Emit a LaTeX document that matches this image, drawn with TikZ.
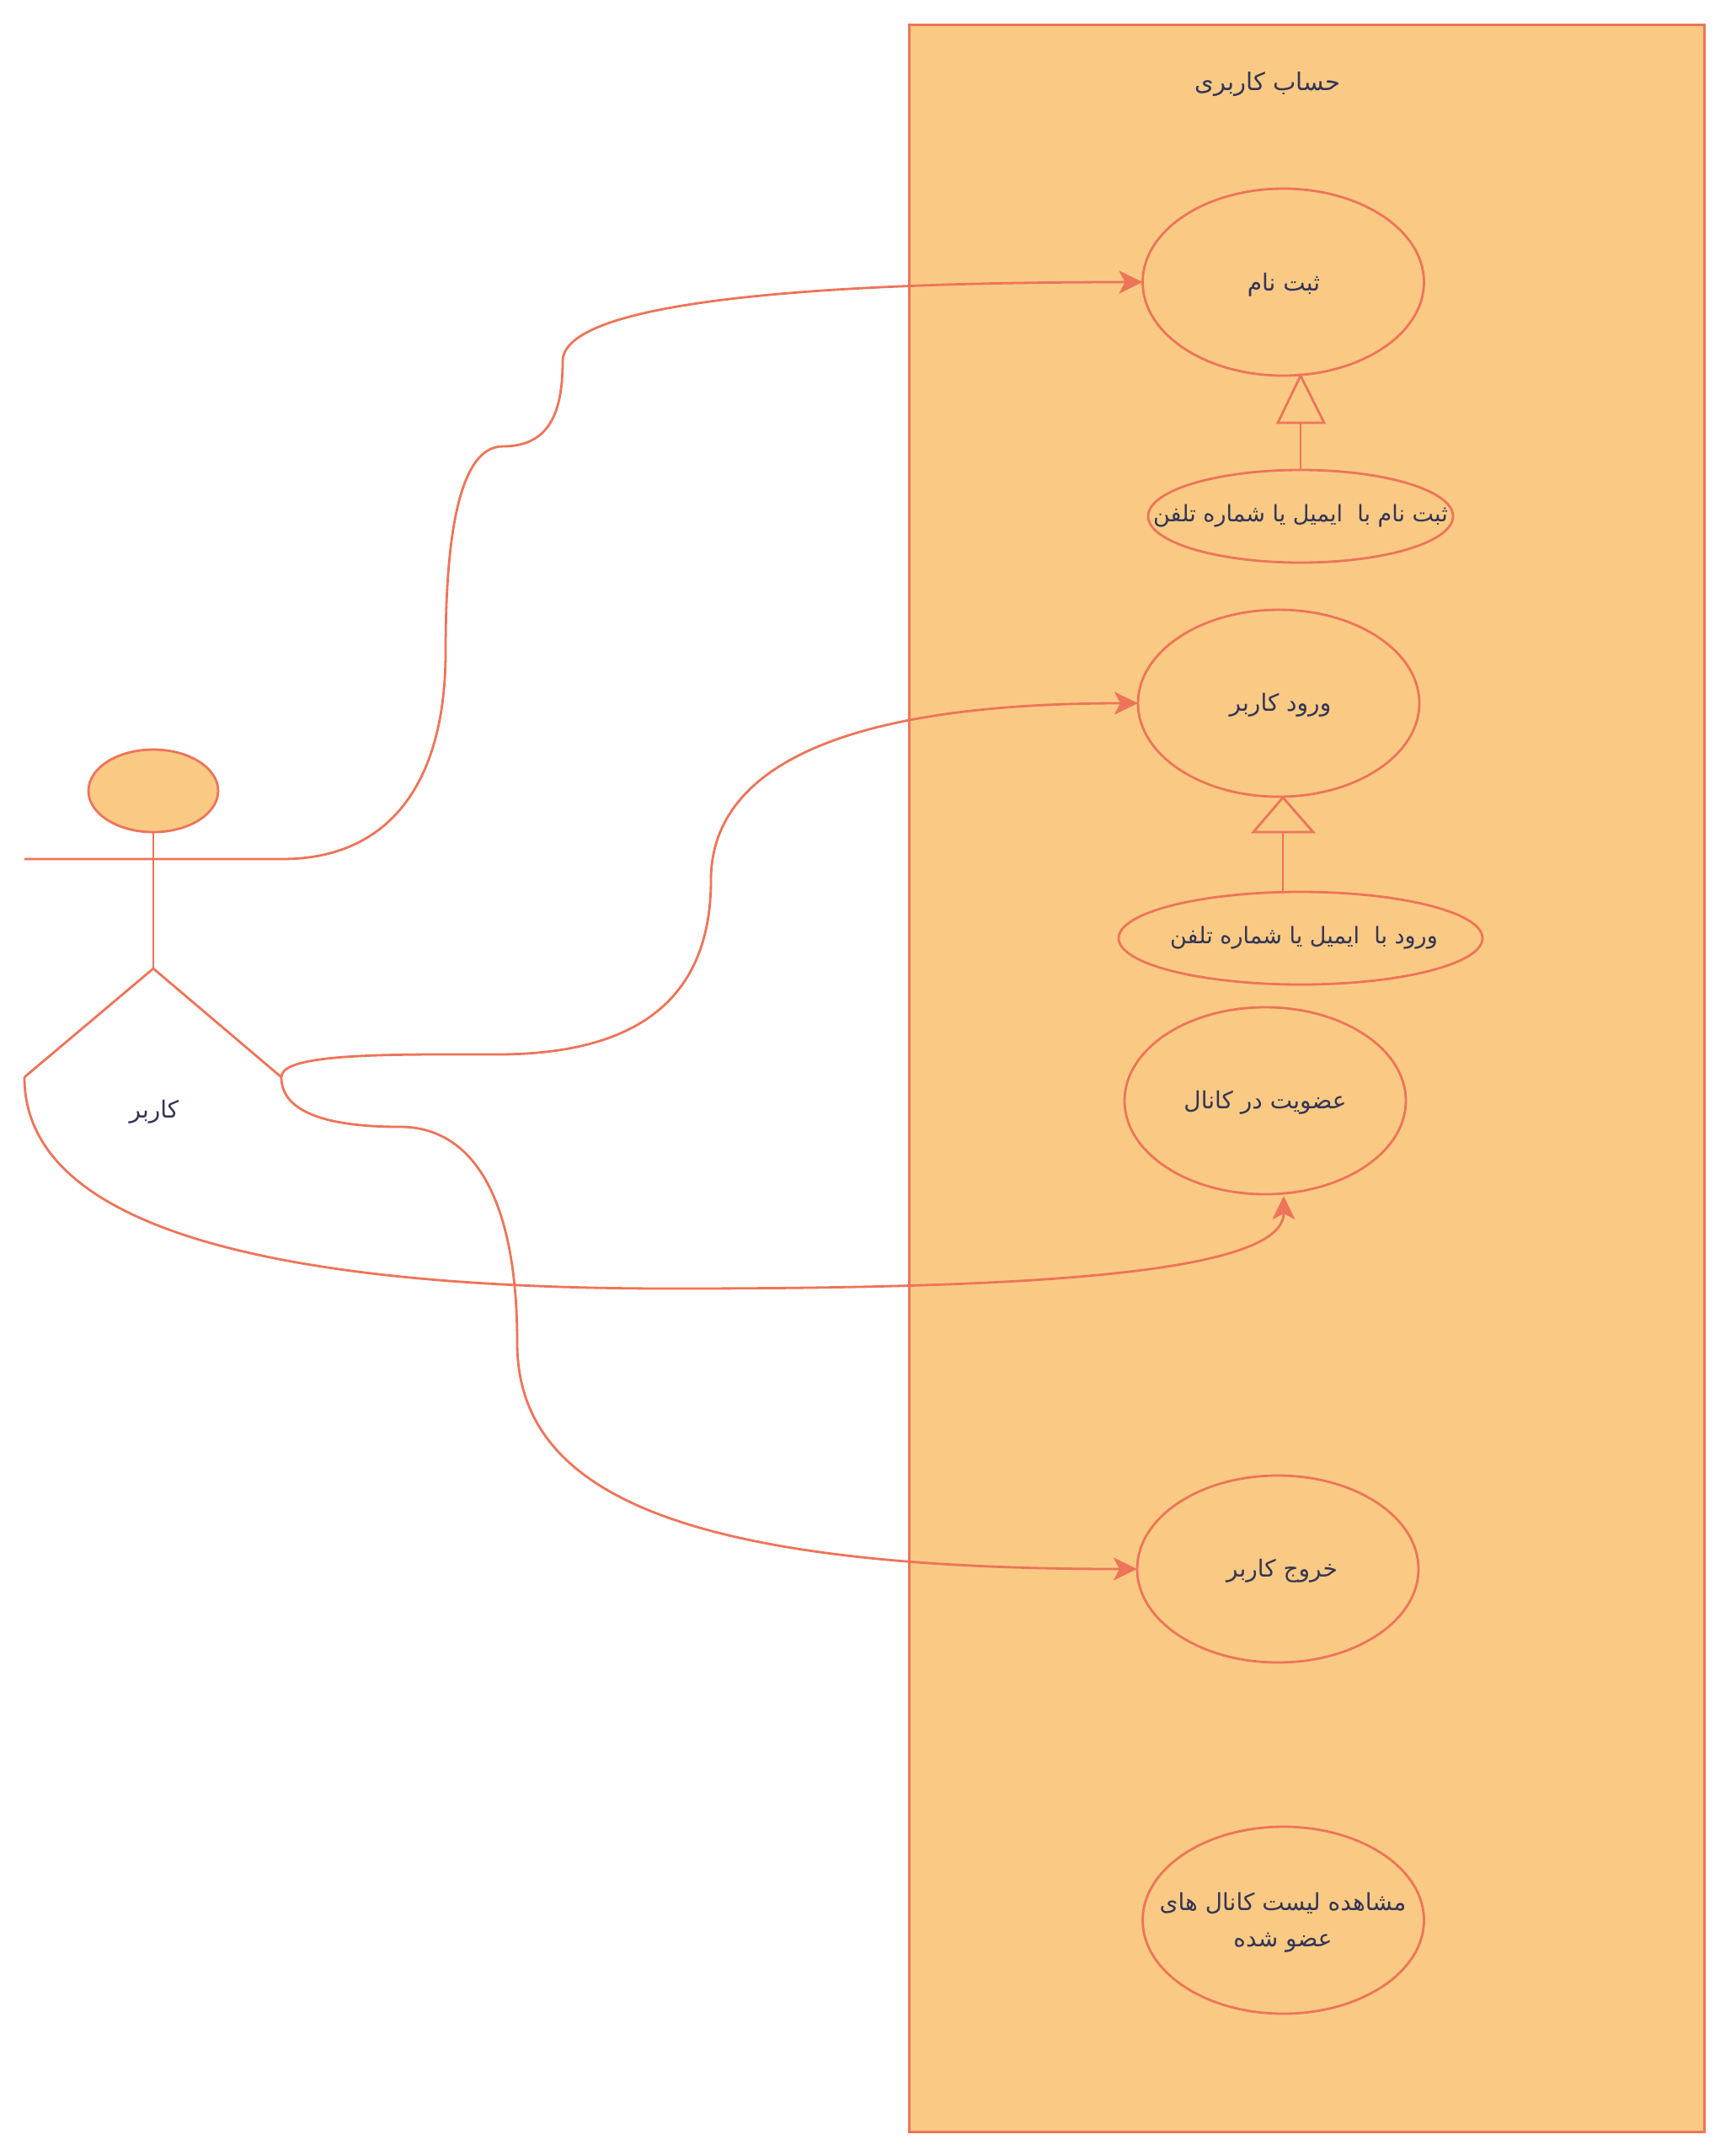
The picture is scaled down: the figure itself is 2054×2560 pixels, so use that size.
\documentclass[tikz,border=0pt]{standalone}
\usepackage{fontspec}
\usetikzlibrary{arrows.meta,shapes.geometric}
\TeXXeTstate=1
\newfontfamily\arabicfont[Script=Arabic]{DejaVu Sans}
\definecolor{peach}{HTML}{FACA84}
\definecolor{coral}{HTML}{EE7459}
\definecolor{ink}{HTML}{333556}
\newcommand{\fa}[1]{\beginR #1\endR}
\tikzset{
  line/.style={draw=coral,line width=2.8pt},
  uc/.style={ellipse,draw=coral,line width=2.8pt,fill=peach,inner sep=0pt,outer sep=0pt,
    minimum width=334pt,minimum height=222pt},
  subuc/.style={uc,minimum height=110pt},
  label/.style={text=ink,inner sep=0pt,outer sep=0pt,align=center,
    font=\arabicfont\fontsize{28}{43}\selectfont},
  smalllabel/.style={label,font=\arabicfont\fontsize{27}{43}\selectfont},
  flow/.style={line,-{Stealth[length=28pt,width=27pt,inset=7pt,fill=coral]}}
}
\begin{document}
\begin{tikzpicture}[x=1pt,y=-1pt]
\useasboundingbox (0,0) rectangle (2054,2560);
\fill[white] (0,0) rectangle (2054,2560);
% package frame
\node[draw=coral,line width=3pt,fill=peach,inner sep=0pt,outer sep=0pt,minimum width=944pt,minimum height=2502pt] (pkg) at (1551.5,1280) {};
\node[label,font=\arabicfont\fontsize{29}{43}\selectfont] (title) at (1505,100) {\fa{حساب کاربری}};
% use cases
\node[uc] (reg) at (1523.5,335) {};
\node[label] at (1524,338) (regt) {\fa{ثبت نام}};
\node[uc] (log) at (1518,835) {};
\node[label] at (1520,837) (logt) {\fa{ورود کاربر}};
\node[uc] (mem) at (1502,1307) {};
\node[label] at (1502,1309) (memt) {\fa{عضویت در کانال}};
\node[uc] (out) at (1517,1863) {};
\node[label] at (1522,1865) (outt) {\fa{خروج کاربر}};
\node[uc] (lst) at (1523.5,2280) {};
\node[label] (lstt) at (1523,2283) {\fa{مشاهده لیست کانال های}\\\fa{عضو شده}};
\node[subuc,minimum width=362pt] (regs) at (1544,613) {};
\node[smalllabel] at (1544,613) (regst) {\fa{ثبت نام با\ \ ایمیل یا شماره تلفن}};
\node[subuc,minimum width=432pt] (logs) at (1544,1114) {};
\node[smalllabel] at (1548,1114) (logst) {\fa{ورود با\ \ ایمیل یا شماره تلفن}};
% actor
\node[ellipse,draw=coral,line width=2.8pt,fill=peach,inner sep=0pt,outer sep=0pt,minimum width=154pt,minimum height=98pt] (head) at (182,939) {};
\coordinate (armL) at (29,1020);
\coordinate (hip) at (182,1150);
\coordinate (legL) at (29,1279);
\coordinate (legR) at (334,1279);
\node[label] (actor) at (183,1320) {\fa{کاربر}};
\draw[line] (head.south) -- (hip);
\draw[line] (legL) -- (hip) -- (legR);
% generalisations
\coordinate (regApex) at (1544,446);
\coordinate (regBase) at (1544,502);
\coordinate (logApex) at (1523,947);
\coordinate (logBase) at (1523,988);
\coordinate (logFoot) at (1523,1061);
\draw[line] (regs.north) -- (regBase);
\draw[line,line join=miter,fill=peach] (regApex) -- (1572,502) -- (1517,502) -- cycle;
\draw[line] (logFoot) -- (logBase);
\draw[line,line join=miter,fill=peach] (logApex) -- (1559,988) -- (1488,988) -- cycle;
% flows
\draw[flow] (armL) -- (335,1020) .. controls (462,1020) and (529,930) .. (529,774)
  .. controls (529,650) and (542,530) .. (597,530)
  .. controls (652,530) and (668,490) .. (668,429)
  .. controls (668,360) and (950,335) .. (reg.west);
\draw[flow] (legR) .. controls (334,1258) and (400,1252) .. (524,1252) -- (590,1252)
  .. controls (745,1252) and (844,1195) .. (844,1045)
  .. controls (844,930) and (960,835) .. (log.west);
\coordinate (memTip) at (1524,1420);
\draw[flow] (legL) .. controls (29,1460) and (330,1530) .. (796,1530)
  .. controls (1200,1530) and (1524,1515) .. (memTip);
\draw[flow] (legR) .. controls (334,1315) and (375,1338) .. (475,1338)
  .. controls (560,1338) and (614,1420) .. (614,1594)
  .. controls (614,1770) and (800,1863) .. (out.west);
\end{tikzpicture}
\end{document}
